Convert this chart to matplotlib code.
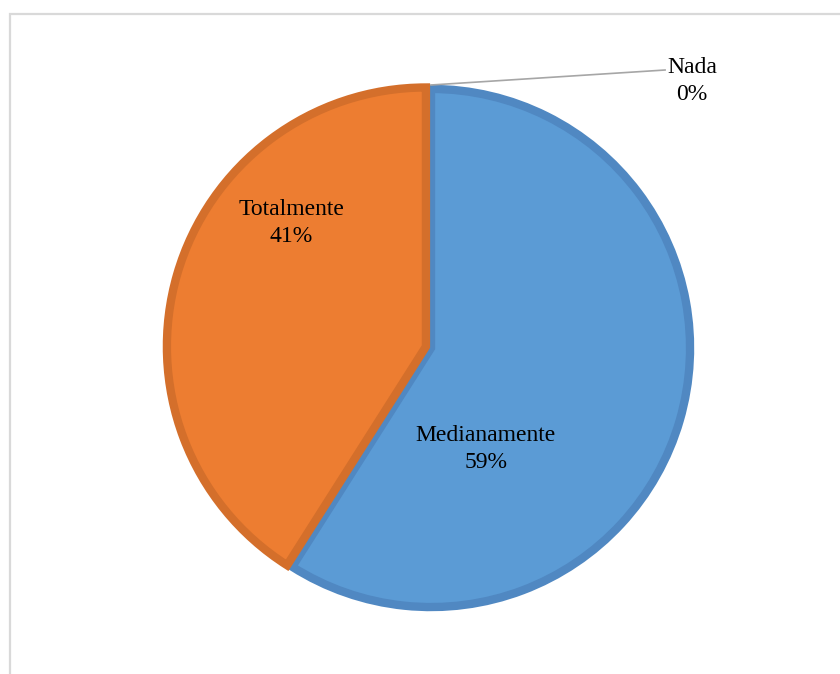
import matplotlib.pyplot as plt
from matplotlib.patches import Rectangle

# Survey answers and their shares (%)
labels = ["Medianamente", "Totalmente", "Nada"]
shares = [59, 41, 0]
fill_colors = ["#5B9BD5", "#ED7D31", "#A5A5A5"]
edge_colors = ["#5088C2", "#D46F2B", "none"]

plt.rcParams['font.family'] = ['Liberation Serif', 'DejaVu Serif']

fig = plt.figure(figsize=(8.4, 6.74), dpi=100)
ax = fig.add_axes([0, 0, 1, 1])

# Chart-area frame (only top and left edges fall inside the image)
fig.patches.append(Rectangle((10 / 840, -0.05), 1.2, 1 - 14 / 674 + 0.05,
                             transform=fig.transFigure, fill=False,
                             edgecolor="#D9D9D9", linewidth=1.6))

wedges, _ = ax.pie(shares, colors=fill_colors, startangle=90, counterclock=False,
                   radius=0.985, explode=[0, 0.02, 0],
                   wedgeprops=dict(linewidth=6))
for w, ec in zip(wedges, edge_colors):
    w.set_edgecolor(ec)
    w.set_joinstyle("miter")
wedges[2].set_linewidth(0)

# Data labels: category name and percentage
pct = [f"{s}%" for s in shares]
ax.text(0.209, -0.385, f"{labels[0]}\n{pct[0]}", ha="center", va="center",
        fontsize=17, linespacing=1.4)
ax.text(-0.532, 0.475, f"{labels[1]}\n{pct[1]}", ha="center", va="center",
        fontsize=17, linespacing=1.4)

# Zero slice gets a leader line to an outside label
ax.plot([0.0, 0.89], [1.0, 1.057], color="#A6A6A6", linewidth=1.2)
ax.text(0.992, 1.015, f"{labels[2]}\n{pct[2]}", ha="center", va="center",
        fontsize=17, linespacing=1.4)

ax.set_xlim(-431 / 263, (840 - 431) / 263)
ax.set_ylim(-326 / 263, (674 - 326) / 263)
ax.set_aspect("auto")
ax.axis("off")

fig.savefig("out.png", dpi=100, facecolor="white")
